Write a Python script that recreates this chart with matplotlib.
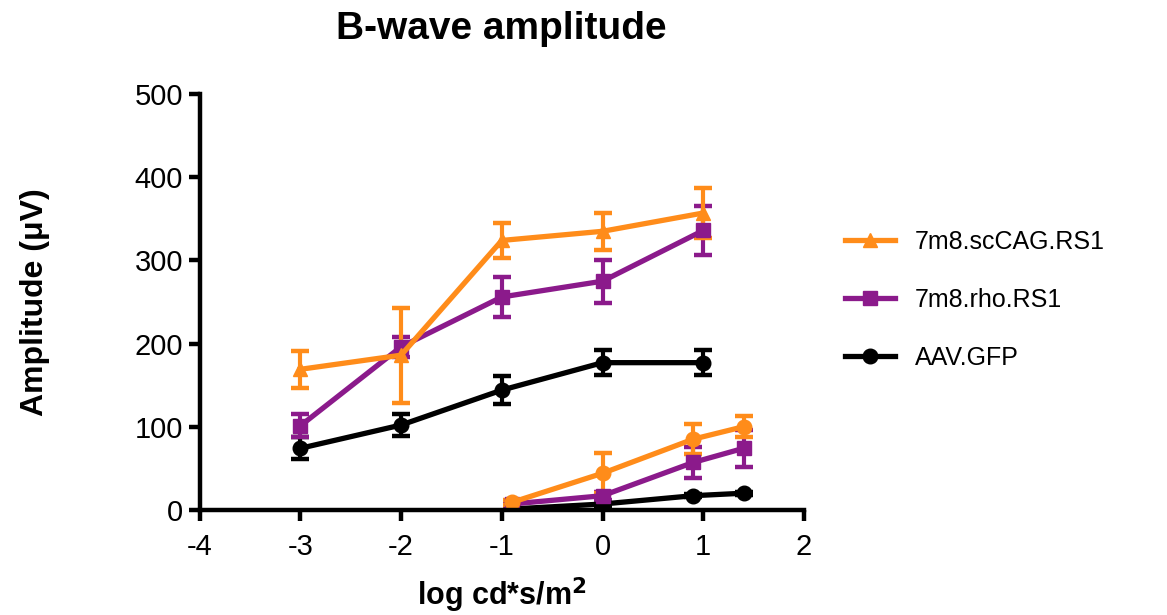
import numpy as np
import matplotlib
matplotlib.use("Agg")
import matplotlib.pyplot as plt
from matplotlib.lines import Line2D

plt.rcParams['font.family'] = ['Liberation Sans', 'DejaVu Sans']
plt.rcParams['axes.unicode_minus'] = False

# upper set of curves (x in log cd*s/m2)
x_hi = [-3, -2, -1, 0, 1]
sc_hi = [169, 186, 324, 335, 357]
sc_hi_err = [22, 57, 21, 22, 30]
rho_hi = [101, 196, 256, 275, 336]
rho_hi_err = [14, 12, 24, 26, 30]
gfp_hi = [74, 102, 144, 177, 177]
gfp_hi_err = [13, 13, 17, 15, 15]

# lower set of curves
x_lo = [-0.9, 0.0, 0.9, 1.4]
sc_lo = [9, 44, 85, 100]
sc_lo_err = [3, 24, 18, 13]
rho_lo = [7, 17, 57, 74]
rho_lo_err = [2, 5, 19, 22]
gfp_lo = [1, 7, 17, 20]
gfp_lo_err = [1, 2, 2, 2]

labels = ['7m8.scCAG.RS1', '7m8.rho.RS1', 'AAV.GFP']
orange = '#FF8C1A'
purple = '#8B1A8B'
black = '#000000'

fig = plt.figure(figsize=(11.67, 6.15), dpi=100)
ax = fig.add_axes([0.171, 0.171, 0.518, 0.676])

kw = dict(lw=3.8, elinewidth=3, capsize=6.5, capthick=3.2, markersize=10.5)

ax.errorbar(x_lo, gfp_lo, yerr=gfp_lo_err, color=black, marker='o', **kw)
ax.errorbar(x_lo, rho_lo, yerr=rho_lo_err, color=purple, marker='s', **kw)
ax.errorbar(x_lo, sc_lo, yerr=sc_lo_err, color=orange, marker='o', **kw)

ax.errorbar(x_hi, gfp_hi, yerr=gfp_hi_err, color=black, marker='o', **kw)
ax.errorbar(x_hi, rho_hi, yerr=rho_hi_err, color=purple, marker='s', **kw)
ax.errorbar(x_hi, sc_hi, yerr=sc_hi_err, color=orange, marker='^', **kw)

ax.set_xlim(-4, 2)
ax.set_ylim(0, 500)
ax.set_xticks([-4, -3, -2, -1, 0, 1, 2])
ax.set_yticks([0, 100, 200, 300, 400, 500])
for s in ['top', 'right']:
    ax.spines[s].set_visible(False)
for s in ['left', 'bottom']:
    ax.spines[s].set_linewidth(3.2)
ax.tick_params(width=3.2, length=8, labelsize=21)
ax.tick_params(axis='x', pad=9)
ax.tick_params(axis='y', pad=4)

ax.set_title('B-wave amplitude', fontsize=28, fontweight='bold', pad=40)
ax.set_xlabel('log cd*s/m$^\\mathbf{2}$', fontsize=22, fontweight='bold', labelpad=10)
ax.set_ylabel('Amplitude (\u03bcV)', fontsize=23, fontweight='bold', labelpad=61)

handles = [Line2D([], [], color=orange, marker='^', lw=3.8, markersize=10.5),
           Line2D([], [], color=purple, marker='s', lw=3.8, markersize=10.5),
           Line2D([], [], color=black, marker='o', lw=3.8, markersize=10.5)]
ax.legend(handles, labels, loc='center left', bbox_to_anchor=(1.03, 0.505),
          frameon=False, fontsize=18, handlelength=2.0, handletextpad=0.8,
          labelspacing=1.35)

fig.savefig('out.png', dpi=100)
